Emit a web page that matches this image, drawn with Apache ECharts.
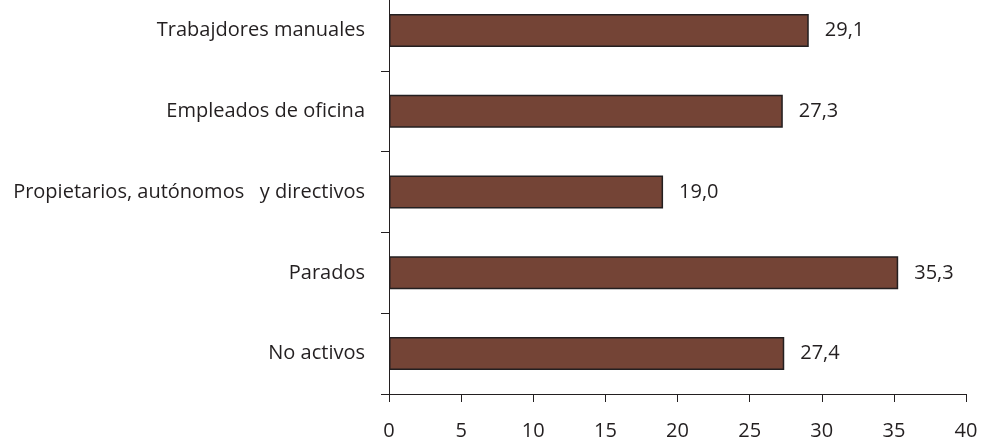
<!DOCTYPE html>
<html>
<head>
<meta charset="utf-8">
<script src="https://cdn.jsdelivr.net/npm/echarts@6/dist/echarts.min.js"></script>
<style>html,body{margin:0;padding:0;background:#fff;overflow:hidden}#c{width:982px;height:451px;margin-top:-10px}</style>
</head>
<body>
<div id="c"></div>
<script>
var categories = ['Trabajdores manuales', 'Empleados de oficina', 'Propietarios, autónomos   y directivos', 'Parados', 'No activos'];
var values = [29.1, 27.3, 19.0, 35.3, 27.4];
var xTicks = [0, 5, 10, 15, 20, 25, 30, 35, 40];

var FONT = 'Open Sans';
var TXT = '#231f20';
var chart = echarts.init(document.getElementById('c'));
chart.setOption({
  animation: false,
  backgroundColor: '#fff',
  grid: { left: 389, right: 16, top: 0, bottom: 46, containLabel: false },
  xAxis: {
    type: 'value', min: xTicks[0], max: xTicks[xTicks.length - 1], interval: 5,
    axisLine: { show: true, lineStyle: { color: TXT, width: 1 } },
    axisTick: { show: true, inside: false, length: 8, lineStyle: { color: TXT } },
    splitLine: { show: false },
    axisLabel: { color: TXT, fontFamily: FONT, fontSize: 20, margin: 27,
      formatter: function (v) { return String(v); } }
  },
  yAxis: {
    type: 'category', data: categories, inverse: true,
    axisLine: { show: true, lineStyle: { color: TXT, width: 1 } },
    axisTick: { show: true, alignWithLabel: false, length: 8, lineStyle: { color: TXT } },
    axisLabel: { color: TXT, fontFamily: FONT, fontSize: 20, margin: 24 }
  },
  series: [{
    type: 'bar', data: values, barWidth: 33,
    itemStyle: { color: '#744436', borderColor: '#231f20', borderWidth: 1.5 },
    label: { show: true, position: 'right', distance: 16, color: TXT, fontFamily: FONT, fontSize: 20,
      formatter: function (p) { return p.value.toFixed(1).replace('.', ','); } }
  }]
});
</script>
</body>
</html>
